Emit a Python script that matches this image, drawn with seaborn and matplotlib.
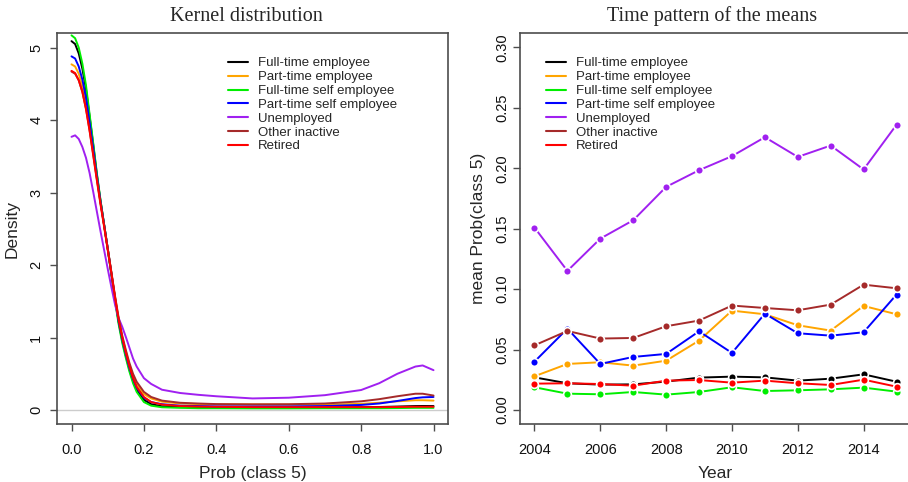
import numpy as np
import pandas as pd
import matplotlib
matplotlib.use("Agg")
import matplotlib.pyplot as plt
import seaborn as sns
from matplotlib.lines import Line2D

# ---------------- data ----------------
groups = ["Full-time employee", "Part-time employee", "Full-time self employee",
          "Part-time self employee", "Unemployed", "Other inactive", "Retired"]
colors = ["#000000", "#FFA500", "#00EE00", "#0000FF", "#A020F0", "#A52A2A", "#FF0000"]

# kernel density curves
kx = [0, 0.01, 0.02, 0.03, 0.04, 0.05, 0.06, 0.07, 0.08, 0.09, 0.10, 0.11, 0.12, 0.13,
      0.14, 0.15, 0.16, 0.17, 0.18, 0.20, 0.22, 0.25, 0.30, 0.35, 0.40, 0.50, 0.60,
      0.70, 0.80, 0.85, 0.90, 0.95, 0.97, 1.00]
dens_fte = [5.09, 5.05, 4.92, 4.71, 4.43, 4.05, 3.66, 3.25, 2.89, 2.56, 2.23, 1.89, 1.54, 1.22,
            0.96, 0.75, 0.56, 0.40, 0.28, 0.14, 0.08, 0.052, 0.042, 0.04, 0.04, 0.04, 0.04,
            0.04, 0.04, 0.042, 0.048, 0.055, 0.056, 0.055]
dens_pte = [4.77, 4.74, 4.64, 4.47, 4.23, 3.91, 3.57, 3.21, 2.87, 2.55, 2.23, 1.90, 1.57, 1.26,
            1.01, 0.81, 0.62, 0.47, 0.36, 0.22, 0.16, 0.115, 0.09, 0.082, 0.078, 0.078, 0.075,
            0.075, 0.085, 0.10, 0.12, 0.135, 0.135, 0.13]
dens_ftse = [5.17, 5.13, 5.00, 4.78, 4.48, 4.08, 3.68, 3.27, 2.90, 2.56, 2.22, 1.87, 1.51, 1.19,
             0.93, 0.72, 0.53, 0.37, 0.25, 0.11, 0.06, 0.038, 0.03, 0.025, 0.025, 0.023, 0.023,
             0.025, 0.025, 0.025, 0.027, 0.03, 0.03, 0.03]
dens_ptse = [4.88, 4.85, 4.74, 4.56, 4.31, 3.97, 3.61, 3.23, 2.88, 2.56, 2.23, 1.89, 1.55, 1.23,
             0.98, 0.77, 0.58, 0.43, 0.31, 0.17, 0.11, 0.08, 0.06, 0.055, 0.05, 0.05, 0.05,
             0.055, 0.07, 0.09, 0.125, 0.165, 0.175, 0.18]
dens_unemp = [3.77, 3.79, 3.74, 3.63, 3.48, 3.27, 3.01, 2.74, 2.47, 2.21, 1.95, 1.70, 1.46, 1.27,
              1.15, 1.01, 0.86, 0.71, 0.60, 0.44, 0.36, 0.28, 0.235, 0.21, 0.19, 0.16, 0.17,
              0.205, 0.276, 0.37, 0.50, 0.60, 0.615, 0.55]
dens_inact = [4.67, 4.64, 4.55, 4.39, 4.16, 3.86, 3.53, 3.19, 2.86, 2.55, 2.23, 1.91, 1.58, 1.28,
              1.03, 0.83, 0.65, 0.50, 0.39, 0.25, 0.18, 0.13, 0.10, 0.09, 0.082, 0.078, 0.08,
              0.09, 0.12, 0.15, 0.19, 0.225, 0.225, 0.20]
dens_retired = [4.68, 4.65, 4.55, 4.39, 4.15, 3.85, 3.51, 3.17, 2.84, 2.53, 2.21, 1.89, 1.56, 1.25,
                1.00, 0.79, 0.60, 0.44, 0.32, 0.18, 0.11, 0.075, 0.055, 0.048, 0.045, 0.04, 0.04,
                0.04, 0.04, 0.04, 0.042, 0.045, 0.045, 0.045]

# yearly means
years = [2004, 2005, 2006, 2007, 2008, 2009, 2010, 2011, 2012, 2013, 2014, 2015]
mean_fte = [0.0270, 0.0221, 0.0210, 0.0212, 0.0235, 0.0268, 0.0276, 0.0270, 0.0243, 0.0259, 0.0295, 0.0234]
mean_pte = [0.0279, 0.0381, 0.0395, 0.0367, 0.0408, 0.0574, 0.0822, 0.0792, 0.0701, 0.0657, 0.0861, 0.0792]
mean_ftse = [0.0188, 0.0135, 0.0130, 0.0149, 0.0127, 0.0149, 0.0188, 0.0157, 0.0163, 0.0171, 0.0185, 0.0152]
mean_ptse = [0.0400, 0.0673, 0.0381, 0.0439, 0.0464, 0.0651, 0.0472, 0.0797, 0.0635, 0.0615, 0.0643, 0.0955]
mean_unemp = [0.1509, 0.1151, 0.1418, 0.1570, 0.1846, 0.1984, 0.2100, 0.2257, 0.2094, 0.2188, 0.1990, 0.2360]
mean_inact = [0.0535, 0.0654, 0.0591, 0.0596, 0.0693, 0.0740, 0.0864, 0.0844, 0.0825, 0.0872, 0.1037, 0.1007]
mean_retired = [0.0218, 0.0221, 0.0215, 0.0201, 0.0243, 0.0248, 0.0226, 0.0243, 0.0221, 0.0207, 0.0251, 0.0193]

dens_all = [dens_fte, dens_pte, dens_ftse, dens_ptse, dens_unemp, dens_inact, dens_retired]
mean_all = [mean_fte, mean_pte, mean_ftse, mean_ptse, mean_unemp, mean_inact, mean_retired]

df_k = pd.concat([pd.DataFrame({"x": kx, "d": d, "g": g}) for g, d in zip(groups, dens_all)],
                 ignore_index=True)
df_m = pd.concat([pd.DataFrame({"year": years, "m": m, "g": g}) for g, m in zip(groups, mean_all)],
                 ignore_index=True)
palette = dict(zip(groups, colors))

# ---------------- style ----------------
sns.set_theme(style="white")
plt.rcParams["font.family"] = ["Liberation Sans", "DejaVu Sans"]
plt.rcParams["axes.edgecolor"] = "#4d4d4d"
plt.rcParams["axes.linewidth"] = 1.2
plt.rcParams["xtick.color"] = "#4d4d4d"
plt.rcParams["ytick.color"] = "#4d4d4d"
plt.rcParams["xtick.labelcolor"] = "#111111"
plt.rcParams["ytick.labelcolor"] = "#111111"

fig = plt.figure(figsize=(9.08, 4.82), dpi=100)
ax1 = fig.add_axes([0.0628, 0.1203, 0.4306, 0.8112])
ax2 = fig.add_axes([0.5727, 0.1203, 0.4306, 0.8112])

title_font = dict(family=["Liberation Serif", "DejaVu Serif"], size=14.5)

# ---------------- left: kernel densities ----------------
ax1.axhline(0, color="#cccccc", lw=1.0, zorder=0)
sns.lineplot(data=df_k, x="x", y="d", hue="g", hue_order=groups, palette=palette,
             estimator=None, sort=False, legend=False, lw=1.4, ax=ax1)
ax1.set_xlim(-0.04, 1.04)
ax1.set_ylim(-0.193, 5.202)
ax1.set_xticks([0.0, 0.2, 0.4, 0.6, 0.8, 1.0])
ax1.set_xticklabels(["0.0", "0.2", "0.4", "0.6", "0.8", "1.0"])
ax1.set_yticks([0, 1, 2, 3, 4, 5])
ax1.set_yticklabels(["0", "1", "2", "3", "4", "5"], rotation=90, va="center")
ax1.set_xlabel("Prob (class 5)", fontsize=12.5, labelpad=7)
ax1.set_ylabel("Density", fontsize=12.5, labelpad=7)
ax1.set_title("Kernel distribution", pad=9, x=0.485, **title_font)

# ---------------- right: yearly means ----------------
sns.lineplot(data=df_m, x="year", y="m", hue="g", hue_order=groups, palette=palette,
             estimator=None, sort=False, legend=False, lw=1.4, marker="o", markersize=5.6,
             markeredgecolor="white", markeredgewidth=1.2, ax=ax2)
ax2.set_xlim(2003.56, 2015.44)
ax2.set_ylim(-0.0116, 0.3119)
ax2.set_xticks([2004, 2006, 2008, 2010, 2012, 2014])
ax2.set_xticklabels(["2004", "2006", "2008", "2010", "2012", "2014"])
ax2.set_yticks([0.0, 0.05, 0.10, 0.15, 0.20, 0.25, 0.30])
ax2.set_yticklabels(["0.00", "0.05", "0.10", "0.15", "0.20", "0.25", "0.30"], rotation=90, va="center")
ax2.set_xlabel("Year", fontsize=12.5, labelpad=7)
ax2.set_ylabel("mean Prob(class 5)", fontsize=12.5, labelpad=7)
ax2.set_title("Time pattern of the means", pad=9, x=0.491, **title_font)

for ax, ypad in ((ax1, 5), (ax2, 2.5)):
    ax.tick_params(axis="both", which="major", direction="out", length=5, width=1.0,
                   labelsize=10.5, bottom=True, left=True)
    ax.tick_params(axis="x", pad=8.5)
    ax.tick_params(axis="y", pad=ypad)
    for s in ax.spines.values():
        s.set_visible(True)

handles = [Line2D([0], [0], color=c, lw=1.5) for c in colors]
leg_kw = dict(loc="upper left", frameon=False, fontsize=9.5, handlelength=1.55,
              handletextpad=0.75, labelspacing=0.12, borderaxespad=0, borderpad=0)
ax1.legend(handles, groups, bbox_to_anchor=(0.437, 0.938), **leg_kw)
ax2.legend(handles, groups, bbox_to_anchor=(0.0665, 0.938), **leg_kw)

fig.savefig("out.png", dpi=100)
